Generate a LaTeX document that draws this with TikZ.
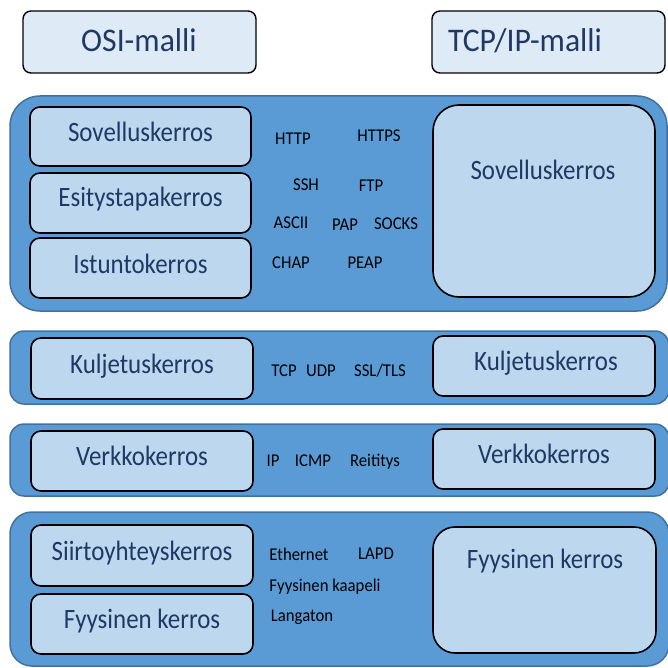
\documentclass[tikz,border=0pt]{standalone}
\usepackage{fontspec}
\setmainfont{Carlito}
\definecolor{grpfill}{HTML}{5B9BD5}
\definecolor{grpline}{HTML}{41719C}
\definecolor{boxfill}{HTML}{BDD7EE}
\definecolor{headfill}{HTML}{DEEBF7}
\definecolor{labtext}{HTML}{1F3864}
\newcommand\hd[1]{\scalebox{0.96}[1]{#1}}
\newcommand\lb[1]{\scalebox{0.89}[1]{#1}}
\newcommand\pr[1]{\scalebox{0.93}[1]{#1}}
\begin{document}
\begin{tikzpicture}[x=1pt,y=-1pt,
  grp/.style={draw=grpline,fill=grpfill,line width=1.5pt,rounded corners=#1},
  grp/.default=14pt,
  headbox/.style={draw=black,fill=headfill,line width=1.4pt,rounded corners=8pt,inner sep=0pt},
  layerbox/.style={draw=black,fill=boxfill,line width=1.6pt,rounded corners=#1,inner sep=0pt},
  layerbox/.default=10pt,
  headlab/.style={text=labtext,font=\fontsize{33}{36}\selectfont,anchor=base,inner sep=0pt},
  lab/.style={text=labtext,font=\fontsize{28}{32}\selectfont,anchor=base,inner sep=0pt},
  proto/.style={text=black,font=\fontsize{18}{21}\selectfont,inner sep=0pt,anchor=base}]
\useasboundingbox (0,0) rectangle (667,668);
% headers
\node[headbox,minimum width=233pt,minimum height=62pt] (osi) at (139.5,42) {};
\node[headlab] (osil) at (139,52) {\hd{OSI-malli}};
\node[headbox,minimum width=233pt,minimum height=62pt] (tcpip) at (548.5,42) {};
\node[headlab] (tcpipl) at (525,52) {\hd{TCP/IP-malli}};
% groups
\draw[grp=30pt] (10,96) rectangle (667,311);
\draw[grp] (10,331) rectangle (669,404);
\draw[grp] (10,424) rectangle (669,496);
\draw[grp=22pt] (10,512) rectangle (669,666);
% group 1
\node[layerbox,minimum width=221pt,minimum height=59pt] (sov) at (140.5,136.5) {};
\node[lab] (sovl) at (140.5,142) {\lb{Sovelluskerros}};
\node[layerbox,minimum width=221pt,minimum height=60pt] (esi) at (140.5,203) {};
\node[lab] (esil) at (140.5,207) {\lb{Esitystapakerros}};
\node[layerbox,minimum width=221pt,minimum height=60pt] (ist) at (140.5,268) {};
\node[lab] (istl) at (140.5,273) {\lb{Istuntokerros}};
\node[layerbox=26pt,minimum width=222pt,minimum height=192pt] (tsov) at (544,201) {};
\node[lab] (tsovl) at (543,180) {\lb{Sovelluskerros}};
\node[proto] (http) at (293,145) {\pr{HTTP}};
\node[proto] (https) at (379,142) {\pr{HTTPS}};
\node[proto] (ssh) at (306,190) {\pr{SSH}};
\node[proto] (ftp) at (371,192) {\pr{FTP}};
\node[proto] (ascii) at (291,228) {\pr{ASCII}};
\node[proto] (pap) at (345,230) {\pr{PAP}};
\node[proto] (socks) at (396,229) {\pr{SOCKS}};
\node[proto] (chap) at (291,268) {\pr{CHAP}};
\node[proto] (peap) at (365,268) {\pr{PEAP}};
% group 2
\node[layerbox,minimum width=222pt,minimum height=61pt] (kul) at (142,368.5) {};
\node[lab] (kull) at (142,373) {\lb{Kuljetuskerros}};
\node[layerbox,minimum width=222pt,minimum height=60pt] (tkul) at (544,366) {};
\node[lab] (tkull) at (546,370) {\lb{Kuljetuskerros}};
\node[proto] (tcp) at (284,376) {\pr{TCP}};
\node[proto] (udp) at (321,376) {\pr{UDP}};
\node[proto] (ssl) at (380,376) {\pr{SSL/TLS}};
% group 3
\node[layerbox,minimum width=222pt,minimum height=60pt] (ver) at (142,461) {};
\node[lab] (verl) at (142,465) {\lb{Verkkokerros}};
\node[layerbox,minimum width=222pt,minimum height=60pt] (tver) at (544,459) {};
\node[lab] (tverl) at (544,463) {\lb{Verkkokerros}};
\node[proto] (ip) at (273,466) {\pr{IP}};
\node[proto] (icmp) at (313,466) {\pr{ICMP}};
\node[proto] (reit) at (375,466) {\pr{Reititys}};
% group 4
\node[layerbox,minimum width=222pt,minimum height=61pt] (sii) at (142,555.5) {};
\node[lab] (siil) at (142,560) {\lb{Siirtoyhteyskerros}};
\node[layerbox,minimum width=222pt,minimum height=60pt] (fyy) at (142,624) {};
\node[lab] (fyyl) at (142,628) {\lb{Fyysinen kerros}};
\node[layerbox=22pt,minimum width=223pt,minimum height=126pt] (tfyy) at (544.5,590) {};
\node[lab] (tfyyl) at (545,568) {\lb{Fyysinen kerros}};
\node[proto] (eth) at (299,560) {\pr{Ethernet}};
\node[proto] (lapd) at (376,559) {\pr{LAPD}};
\node[proto] (kaap) at (325,591) {\pr{Fyysinen kaapeli}};
\node[proto] (lang) at (302,621) {\pr{Langaton}};
\end{tikzpicture}
\end{document}
